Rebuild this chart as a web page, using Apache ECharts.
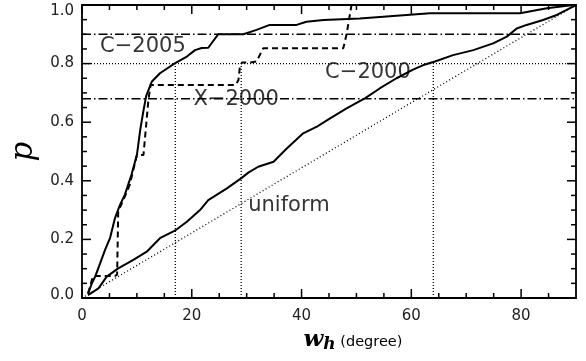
<!DOCTYPE html>
<html>
<head>
<meta charset="utf-8">
<script src="https://cdn.jsdelivr.net/npm/echarts@6/dist/echarts.min.js"></script>
<style>
html, body {margin: 0; padding: 0; background: #fff;}
#main {width: 586px; height: 361px;}
</style>
</head>
<body>
<div id="main"></div>
<script>
// cumulative curves
var c2005X = [1.1, 1.8, 2.4, 3.3, 4.2, 5.1, 6.0, 6.9, 7.8, 8.4, 9.0, 10.0, 10.6, 11.2, 11.7, 12.7, 14.2, 16.9, 19.1, 20.6, 21.8, 23.0, 24.8, 29.4, 31.8, 34.2, 39.1, 40.9, 44.0, 50.6, 63.4, 79.8, 84.7, 89.5, 90];
var c2005Y = [0.015, 0.05, 0.073, 0.118, 0.164, 0.204, 0.272, 0.317, 0.352, 0.386, 0.42, 0.488, 0.573, 0.64, 0.69, 0.738, 0.767, 0.801, 0.824, 0.846, 0.853, 0.854, 0.9, 0.9, 0.915, 0.932, 0.932, 0.943, 0.949, 0.954, 0.972, 0.972, 0.989, 1.0, 1.0];

var x2000X = [1.1, 2.0, 6.0, 6.4, 6.6, 7.0, 8.7, 9.05, 10.0, 11.2, 12.1, 12.5, 28.0, 28.5, 28.8, 29.2, 30.6, 31.8, 33.0, 47.6, 48.2, 49.1, 90];
var x2000Y = [0.015, 0.075, 0.075, 0.08, 0.30, 0.312, 0.386, 0.414, 0.488, 0.488, 0.676, 0.727, 0.727, 0.744, 0.795, 0.804, 0.804, 0.807, 0.852, 0.852, 0.9, 1.0, 1.0];

var c2000X = [1.1, 3.0, 4.5, 6.6, 9.35, 11.8, 14.2, 17.1, 19.1, 21.5, 23.0, 26.4, 29.1, 30.3, 32.1, 34.9, 37.3, 40.3, 42.8, 45.2, 48.2, 51.6, 54.3, 57.3, 60.4, 62.2, 64.3, 67.6, 71.3, 74.9, 77.4, 79.2, 81.0, 84.0, 86.5, 88.3, 90];
var c2000Y = [0.01, 0.033, 0.073, 0.101, 0.13, 0.158, 0.204, 0.232, 0.26, 0.30, 0.334, 0.374, 0.41, 0.428, 0.448, 0.465, 0.51, 0.562, 0.585, 0.613, 0.647, 0.682, 0.716, 0.75, 0.78, 0.795, 0.807, 0.829, 0.846, 0.869, 0.892, 0.92, 0.932, 0.949, 0.966, 0.983, 1.0];

var uniformX = [0, 90];
var uniformY = [0, 1];

// reference levels
var dashDotLevels = [0.9, 0.68];
var dottedLevels = [0.8];
var dropX = [17, 29, 64];
var dropTop = 0.8;

// axis ticks
var xMajor = [0, 20, 40, 60, 80];
var xMinor = [5, 10, 15, 25, 30, 35, 45, 50, 55, 65, 70, 75, 85];
var yMajor = [0, 0.2, 0.4, 0.6, 0.8, 1.0];
var yMinor = [0.05, 0.1, 0.15, 0.25, 0.3, 0.35, 0.45, 0.5, 0.55, 0.65, 0.7, 0.75, 0.85, 0.9, 0.95];

// curve names, placed at data coords
var labelNames = ['C\u22122005', 'X\u22122000', 'C\u22122000', 'uniform'];
var labelX = [11.1, 28.1, 52.1, 37.7];
var labelY = [0.857, 0.676, 0.771, 0.317];

function pairs(xs, ys) {
    var out = [];
    for (var i = 0; i < xs.length; i++) out.push([xs[i], ys[i]]);
    return out;
}

var black = '#000';
var txt = '#222';

var chart = echarts.init(document.getElementById('main'));

var series = [
    {type: 'line', data: pairs(uniformX, uniformY), showSymbol: false,
     lineStyle: {color: black, width: 1.3, type: [1, 2.5]}},
    {type: 'line', data: pairs(c2000X, c2000Y), showSymbol: false,
     lineStyle: {color: black, width: 2}},
    {type: 'line', data: pairs(c2005X, c2005Y), showSymbol: false,
     lineStyle: {color: black, width: 2}},
    {type: 'line', data: pairs(x2000X, x2000Y), showSymbol: false,
     lineStyle: {color: black, width: 2, type: [6, 4]}}
];

dashDotLevels.forEach(function (v) {
    series.push({type: 'line', data: [[0, v], [90, v]], showSymbol: false,
        lineStyle: {color: black, width: 1.4, type: [9, 3, 1.5, 3]}});
});
dottedLevels.forEach(function (v) {
    series.push({type: 'line', data: [[0, v], [90, v]], showSymbol: false,
        lineStyle: {color: black, width: 1.3, type: [1, 2]}});
});
dropX.forEach(function (v) {
    series.push({type: 'line', data: [[v, 0], [v, dropTop]], showSymbol: false,
        lineStyle: {color: black, width: 1.3, type: [1, 2]}});
});

var labelData = [];
for (var i = 0; i < labelNames.length; i++) {
    labelData.push({name: labelNames[i], value: [labelX[i], labelY[i]]});
}
series.push({
    type: 'scatter', data: labelData, symbolSize: 0, silent: true,
    label: {show: true, position: 'inside', formatter: '{b}',
        fontFamily: 'DejaVu Sans', fontSize: 21, color: black}
});

series.forEach(function (s) { s.animation = false; s.silent = true; s.z = s.type === 'scatter' ? 5 : 3; });

chart.setOption({
    animation: false,
    backgroundColor: '#fff',
    grid: {left: 82, right: 10, top: 5, bottom: 63, outerBoundsMode: 'none',
        show: true, borderColor: black, borderWidth: 1.8, backgroundColor: 'transparent'},
    xAxis: {
        type: 'value', min: 0, max: 90,
        axisLine: {show: false},
        axisTick: {show: false},
        axisLabel: {customValues: xMajor, margin: 11,
            fontFamily: 'DejaVu Sans', fontSize: 15, color: txt},
        splitLine: {show: false},
        name: '{w|w}{h|h}{d| (degree)}',
        nameLocation: 'middle',
        nameGap: 28,
        nameTextStyle: {
            padding: [0, 0, 0, 48],
            rich: {
                w: {fontFamily: 'DejaVu Serif', fontStyle: 'italic', fontWeight: 'bold', fontSize: 23, color: black},
                h: {fontFamily: 'DejaVu Serif', fontStyle: 'italic', fontWeight: 'bold', fontSize: 17, color: black, padding: [8, 0, 0, 0]},
                d: {fontFamily: 'DejaVu Sans', fontSize: 14.5, color: black, padding: [4, 0, 0, 0]}
            }
        }
    },
    yAxis: {
        type: 'value', min: 0, max: 1, interval: 0.2,
        axisLine: {show: false},
        axisTick: {show: false},
        axisLabel: {margin: 8, fontFamily: 'DejaVu Sans', fontSize: 15, color: txt,
            formatter: function (v) {
                var s = v.toFixed(1);
                if (v >= 1) return '{top|' + s + '}';
                if (v <= 0) return '{bot|' + s + '}';
                return s;
            },
            rich: {
                top: {fontFamily: 'DejaVu Sans', fontSize: 15, color: txt, padding: [13, 0, 0, 0]},
                bot: {fontFamily: 'DejaVu Sans', fontSize: 15, color: txt, padding: [0, 0, 5, 0]}
            }},
        splitLine: {show: false},
        name: 'p',
        nameLocation: 'middle',
        nameGap: 38,
        nameTextStyle: {fontFamily: 'DejaVu Serif', fontStyle: 'italic', fontSize: 31, color: black}
    },
    series: series
});

// inward ticks on all four sides: tick lengths in pixels turned into
// data units through the grid's own scales, then drawn as short lines
var origin = chart.convertToPixel({gridIndex: 0}, [0, 0]);
function lenInData(px) {
    var p = chart.convertFromPixel({gridIndex: 0}, [origin[0] + px, origin[1] - px]);
    return {dx: p[0], dy: p[1]};
}
var major = lenInData(9);
var minor = lenInData(5);

function tickSeries(a, b) {
    return {type: 'line', data: [a, b], showSymbol: false, silent: true, animation: false, z: 4,
        clip: false, lineStyle: {color: black, width: 1.5, type: 'solid'}};
}
function addXTicks(values, len) {
    values.forEach(function (v) {
        series.push(tickSeries([v, 0], [v, len.dy]));
        series.push(tickSeries([v, 1], [v, 1 - len.dy]));
    });
}
function addYTicks(values, len) {
    values.forEach(function (v) {
        series.push(tickSeries([0, v], [len.dx, v]));
        series.push(tickSeries([90, v], [90 - len.dx, v]));
    });
}
addXTicks(xMajor, major);
addXTicks(xMinor, minor);
addYTicks(yMajor, major);
addYTicks(yMinor, minor);

chart.setOption({series: series});
</script>
</body>
</html>
